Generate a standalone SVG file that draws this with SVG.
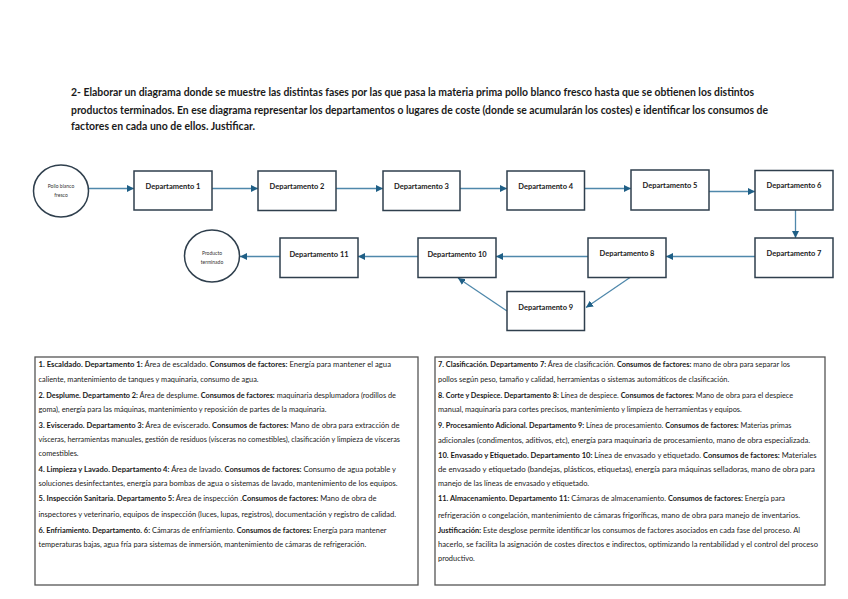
<svg xmlns="http://www.w3.org/2000/svg" width="848" height="599" viewBox="0 0 848 599">
<style>
.bg{fill:#ffffff}
.title{font-family:Lato,"Liberation Sans",sans-serif;font-weight:bold;font-size:10.5px;fill:#1a1a1a}
.node rect{fill:#ffffff;stroke:#2f3f4d;stroke-width:1.5}
.node ellipse{fill:#ffffff;stroke:#2f3f4d;stroke-width:1.5}
.lbl{font-family:Lato,"Liberation Sans",sans-serif;font-weight:bold;font-size:7.5px;fill:#1a1a1a;text-anchor:middle}
.clbl{font-family:Lato,"Liberation Sans",sans-serif;font-size:5px;fill:#333;text-anchor:middle}
.conn line{stroke:#4f88ab;stroke-width:1.3;fill:none;marker-end:url(#ah)}
.box{fill:#ffffff;stroke:#555555;stroke-width:1.3}
.body{font-family:Lato,"Liberation Sans",sans-serif;font-size:7.4px;fill:#1a1a1a}
.b{font-weight:bold}
</style>
<defs>
<marker id="ah" markerWidth="8" markerHeight="7" refX="7" refY="3.5" orient="auto" markerUnits="userSpaceOnUse">
<path d="M0,0 L7,3.5 L0,7 z" fill="#1f5f86"/>
</marker>
</defs>
<rect class="bg" x="0" y="0" width="848" height="599"/>
<g id="title">
<text class="title" x="71" y="96" textLength="683" lengthAdjust="spacingAndGlyphs">2- Elaborar un diagrama donde se muestre las distintas fases por las que pasa la materia prima pollo blanco fresco hasta que se obtienen los distintos</text>
<text class="title" x="71" y="113.5" textLength="697" lengthAdjust="spacingAndGlyphs">productos terminados. En ese diagrama representar los departamentos o lugares de coste (donde se acumularán los costes) e identificar los consumos de</text>
<text class="title" x="71" y="130">factores en cada uno de ellos. Justificar.</text>
</g>
<g id="connectors" class="conn">
<line x1="88.5" y1="188.5" x2="134" y2="188.5"/>
<line x1="212" y1="188.5" x2="258" y2="188.5"/>
<line x1="336" y1="188.5" x2="383" y2="188.5"/>
<line x1="460" y1="188.5" x2="507" y2="188.5"/>
<line x1="584" y1="188.5" x2="631" y2="188.5"/>
<line x1="709" y1="191.5" x2="755" y2="191.5"/>
<line x1="795.5" y1="210" x2="795.5" y2="238"/>
<line x1="755" y1="256.5" x2="666" y2="256.5"/>
<line x1="588" y1="256.5" x2="496" y2="256.5"/>
<line x1="630" y1="277.5" x2="586" y2="307.5"/>
<line x1="507" y1="311" x2="458" y2="278"/>
<line x1="418" y1="256.5" x2="358" y2="256.5"/>
<line x1="280" y1="256.5" x2="240" y2="256.5"/>
</g>
<g id="n-pollo" class="node">
<ellipse cx="61" cy="191" rx="27.5" ry="26"/>
<text class="clbl" x="61" y="187.5">Pollo blanco</text>
<text class="clbl" x="61" y="196.5">fresco</text>
</g>
<g id="n-d1" class="node"><rect x="134" y="171" width="78" height="39"/><text class="lbl" x="173" y="188.5">Departamento 1</text></g>
<g id="n-d2" class="node"><rect x="258" y="171" width="78" height="39.5"/><text class="lbl" x="297" y="189">Departamento 2</text></g>
<g id="n-d3" class="node"><rect x="383" y="171" width="77" height="39.5"/><text class="lbl" x="421.5" y="189">Departamento 3</text></g>
<g id="n-d4" class="node"><rect x="507" y="171" width="77.5" height="39"/><text class="lbl" x="545.7" y="189">Departamento 4</text></g>
<g id="n-d5" class="node"><rect x="631" y="170" width="78" height="40"/><text class="lbl" x="670" y="188">Departamento 5</text></g>
<g id="n-d6" class="node"><rect x="755" y="170.5" width="78" height="39.5"/><text class="lbl" x="794" y="188">Departamento 6</text></g>
<g id="n-d7" class="node"><rect x="755" y="238" width="78" height="39.5"/><text class="lbl" x="794" y="255.5">Departamento 7</text></g>
<g id="n-d8" class="node"><rect x="588" y="238" width="78" height="39.5"/><text class="lbl" x="627" y="255.5">Departamento 8</text></g>
<g id="n-d10" class="node"><rect x="418" y="238" width="78" height="39.5"/><text class="lbl" x="457" y="256.5">Departamento 10</text></g>
<g id="n-d9" class="node"><rect x="507" y="291.5" width="77.5" height="39"/><text class="lbl" x="545.7" y="309.5">Departamento 9</text></g>
<g id="n-d11" class="node"><rect x="280" y="238" width="78" height="39.5"/><text class="lbl" x="319" y="257">Departamento 11</text></g>
<g id="n-producto" class="node">
<ellipse cx="212" cy="256" rx="27.5" ry="26"/>
<text class="clbl" x="212" y="254.5">Producto</text>
<text class="clbl" x="212" y="264">terminado</text>
</g>
<g id="box-left">
<rect class="box" x="35" y="357" width="383" height="228"/>
<text class="body" x="38.5" y="367" textLength="352.5" lengthAdjust="spacingAndGlyphs"><tspan class="b">1. Escaldado. Departamento 1:</tspan> Área de escaldado. <tspan class="b">Consumos de factores:</tspan> Energía para mantener el agua</text>
<text class="body" x="38.5" y="381.5">caliente, mantenimiento de tanques y maquinaria, consumo de agua.</text>
<text class="body" x="38.5" y="397.5" textLength="357.5" lengthAdjust="spacingAndGlyphs"><tspan class="b">2. Desplume. Departamento 2:</tspan> Área de desplume. <tspan class="b">Consumos de factores:</tspan> maquinaria desplumadora (rodillos de</text>
<text class="body" x="38.5" y="412">goma), energía para las máquinas, mantenimiento y reposición de partes de la maquinaria.</text>
<text class="body" x="38.5" y="427.5" textLength="361" lengthAdjust="spacingAndGlyphs"><tspan class="b">3. Eviscerado. Departamento 3:</tspan> Área de eviscerado. <tspan class="b">Consumos de factores:</tspan> Mano de obra para extracción de</text>
<text class="body" x="38.5" y="442" textLength="361.5" lengthAdjust="spacingAndGlyphs">vísceras, herramientas manuales, gestión de residuos (vísceras no comestibles), clasificación y limpieza de vísceras</text>
<text class="body" x="38.5" y="456">comestibles.</text>
<text class="body" x="38.5" y="471.5" textLength="357.5" lengthAdjust="spacingAndGlyphs"><tspan class="b">4. Limpieza y Lavado. Departamento 4:</tspan> Área de lavado. <tspan class="b">Consumos de factores:</tspan> Consumo de agua potable y</text>
<text class="body" x="38.5" y="485.5" textLength="359" lengthAdjust="spacingAndGlyphs">soluciones desinfectantes, energía para bombas de agua o sistemas de lavado, mantenimiento de los equipos.</text>
<text class="body" x="38.5" y="501" textLength="338" lengthAdjust="spacingAndGlyphs"><tspan class="b">5. Inspección Sanitaria. Departamento 5:</tspan> Área de inspección .<tspan class="b">Consumos de factores:</tspan> Mano de obra de</text>
<text class="body" x="38.5" y="517" textLength="357.5" lengthAdjust="spacingAndGlyphs">inspectores y veterinario, equipos de inspección (luces, lupas, registros), documentación y registro de calidad.</text>
<text class="body" x="38.5" y="532.5" textLength="348" lengthAdjust="spacingAndGlyphs"><tspan class="b">6. Enfriamiento. Departamento. 6:</tspan> Cámaras de enfriamiento. <tspan class="b">Consumos de factores:</tspan> Energía para mantener</text>
<text class="body" x="38.5" y="547">temperaturas bajas, agua fría para sistemas de inmersión, mantenimiento de cámaras de refrigeración.</text>
</g>
<g id="box-right">
<rect class="box" x="435" y="357" width="390" height="228"/>
<text class="body" x="438" y="367" textLength="352" lengthAdjust="spacingAndGlyphs"><tspan class="b">7. Clasificación. Departamento 7:</tspan> Área de clasificación. <tspan class="b">Consumos de factores:</tspan> mano de obra para separar los</text>
<text class="body" x="438" y="381.5">pollos según peso, tamaño y calidad, herramientas o sistemas automáticos de clasificación.</text>
<text class="body" x="438" y="397.5" textLength="355" lengthAdjust="spacingAndGlyphs"><tspan class="b">8. Corte y Despiece. Departamento 8:</tspan> Línea de despiece. <tspan class="b">Consumos de factores:</tspan> Mano de obra para el despiece</text>
<text class="body" x="438" y="412">manual, maquinaria para cortes precisos, mantenimiento y limpieza de herramientas y equipos.</text>
<text class="body" x="438" y="427.5" textLength="353.5" lengthAdjust="spacingAndGlyphs"><tspan class="b">9. Procesamiento Adicional. Departamento 9:</tspan> Línea de procesamiento. <tspan class="b">Consumos de factores:</tspan> Materias primas</text>
<text class="body" x="438" y="442.5" textLength="372" lengthAdjust="spacingAndGlyphs">adicionales (condimentos, aditivos, etc), energía para maquinaria de procesamiento, mano de obra especializada.</text>
<text class="body" x="438" y="457.5" textLength="378.5" lengthAdjust="spacingAndGlyphs"><tspan class="b">10. Envasado y Etiquetado. Departamento 10:</tspan> Línea de envasado y etiquetado. <tspan class="b">Consumos de factores:</tspan> Materiales</text>
<text class="body" x="438" y="472" textLength="377" lengthAdjust="spacingAndGlyphs">de envasado y etiquetado (bandejas, plásticos, etiquetas), energía para máquinas selladoras, mano de obra para</text>
<text class="body" x="438" y="485.5">manejo de las líneas de envasado y etiquetado.</text>
<text class="body" x="438" y="501" textLength="347" lengthAdjust="spacingAndGlyphs"><tspan class="b">11. Almacenamiento. Departamento 11:</tspan> Cámaras de almacenamiento. <tspan class="b">Consumos de factores:</tspan> Energía para</text>
<text class="body" x="438" y="517.5" textLength="362" lengthAdjust="spacingAndGlyphs">refrigeración o congelación, mantenimiento de cámaras frigoríficas, mano de obra para manejo de inventarios.</text>
<text class="body" x="438" y="532.5" textLength="362" lengthAdjust="spacingAndGlyphs"><tspan class="b">Justificación:</tspan> Este desglose permite identificar los consumos de factores asociados en cada fase del proceso. Al</text>
<text class="body" x="438" y="547" textLength="380" lengthAdjust="spacingAndGlyphs">hacerlo, se facilita la asignación de costes directos e indirectos, optimizando la rentabilidad y el control del proceso</text>
<text class="body" x="438" y="560.5">productivo.</text>
</g>
</svg>
